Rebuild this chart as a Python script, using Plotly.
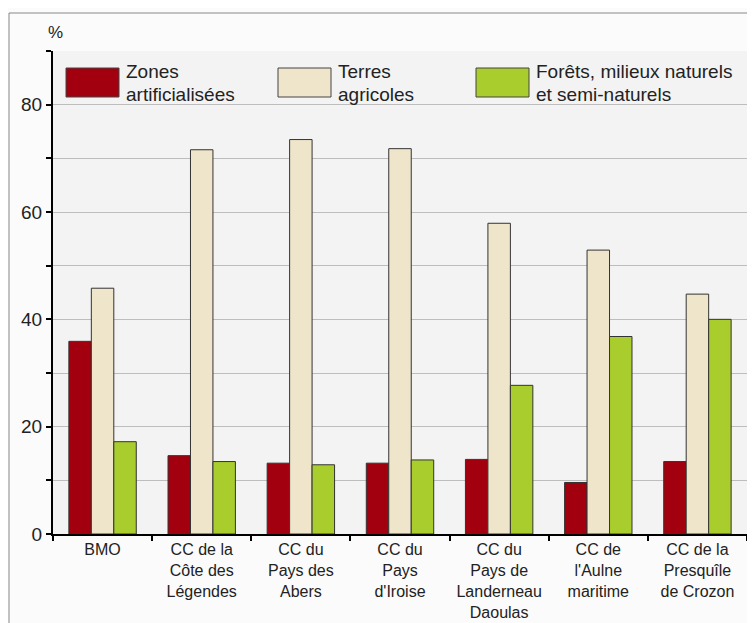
import plotly.graph_objects as go

categories = ["BMO", "CC de la<br>Côte des<br>Légendes", "CC du<br>Pays des<br>Abers", "CC du<br>Pays<br>d'Iroise",
              "CC du<br>Pays de<br>Landerneau<br>Daoulas", "CC de<br>l'Aulne<br>maritime", "CC de la<br>Presquîle<br>de Crozon"]
zones_artificialisees = [35.9, 14.6, 13.2, 13.2, 13.9, 9.6, 13.5]
terres_agricoles = [45.8, 71.6, 73.5, 71.8, 57.9, 52.9, 44.7]
forets_milieux = [17.2, 13.5, 12.9, 13.8, 27.7, 36.8, 40.0]
series_names = ["Zones artificialisées", "Terres agricoles", "Forêts, milieux naturels et semi-naturels"]
legend_lines = [["Zones", "artificialisées"], ["Terres", "agricoles"], ["Forêts, milieux naturels", "et semi-naturels"]]
colors = ["#a3000f", "#efe5cb", "#a9cd2d"]
y_ticks = [0, 20, 40, 60, 80]

FONT = "Liberation Sans, Arial"

fig = go.Figure()
for name, vals, col in zip(series_names, [zones_artificialisees, terres_agricoles, forets_milieux], colors):
    fig.add_trace(go.Bar(x=categories, y=vals, name=name,
                         marker=dict(color=col, line=dict(color="#333333", width=1)),
                         showlegend=False))

OFF = 8  # page body margin
W, H = 755 - OFF, 623 - OFF
# plot area in reference (window) pixels: x 53..747, y 51..534
L = 53 - OFF
T = 51 - OFF
R = W - (747 - OFF)
B = H - (534 - OFF)
pw, ph = W - L - R, H - T - B

def px(x):
    return (x - OFF - L) / pw

def py(y):
    return (H - B - (y - OFF)) / ph

shapes = []
annotations = []
# legend drawn as swatches + text
leg_x = [66, 278, 476]
for i, (lines, col) in enumerate(zip(legend_lines, colors)):
    x0 = leg_x[i]
    shapes.append(dict(type="rect", xref="paper", yref="paper", x0=px(x0), x1=px(x0 + 53), y0=py(97), y1=py(68),
                       fillcolor=col, line=dict(color="#444444", width=1)))
    for j, txt in enumerate(lines):
        annotations.append(dict(xref="paper", yref="paper", x=px(x0 + 58), y=py(72 + 22 * j), text=txt, showarrow=False,
                                xanchor="left", yanchor="middle", align="left",
                                font=dict(family=FONT, size=19, color="#222222")))
# outer frame
shapes.append(dict(type="line", xref="paper", yref="paper", x0=px(9), x1=px(760), y0=py(13), y1=py(13),
                   line=dict(color="#888888", width=1)))
shapes.append(dict(type="line", xref="paper", yref="paper", x0=px(9), x1=px(9), y0=py(13), y1=py(630),
                   line=dict(color="#888888", width=1)))
annotations.append(dict(xref="paper", yref="paper", x=px(46), y=py(32), text="%", showarrow=False,
                        xanchor="left", yanchor="middle", font=dict(family=FONT, size=17, color="#222222")))

fig.update_layout(
    width=W, height=H,
    margin=dict(l=L, r=R, t=T, b=B, autoexpand=False),
    paper_bgcolor="#fbfbfb",
    plot_bgcolor="#f3f3f3",
    barmode="group", bargap=0.32, bargroupgap=0,
    font=dict(family=FONT, size=16, color="#222222"),
    shapes=shapes, annotations=annotations,
    showlegend=False,
)
fig.update_yaxes(range=[0, 90], tickvals=y_ticks, ticktext=[str(v) for v in y_ticks],
                 showgrid=False, showline=True, linecolor="#000000", linewidth=2,
                 ticks="outside", ticklen=5, tickcolor="#000000", tickwidth=2,
                 tickfont=dict(size=19, color="#222222"), automargin=False,
                 minor=dict(dtick=10, showgrid=True, gridcolor="#bdbdbd", gridwidth=1, ticks="outside", ticklen=5, tickcolor="#000000"),
                 zeroline=False)
fig.update_xaxes(showline=True, linecolor="#000000", linewidth=2, ticks="outside", tickson="boundaries",
                 ticklen=5, tickcolor="#000000", tickwidth=2, tickfont=dict(size=16, color="#222222"), tickangle=0,
                 automargin=False)

fig.write_html("out.html")
